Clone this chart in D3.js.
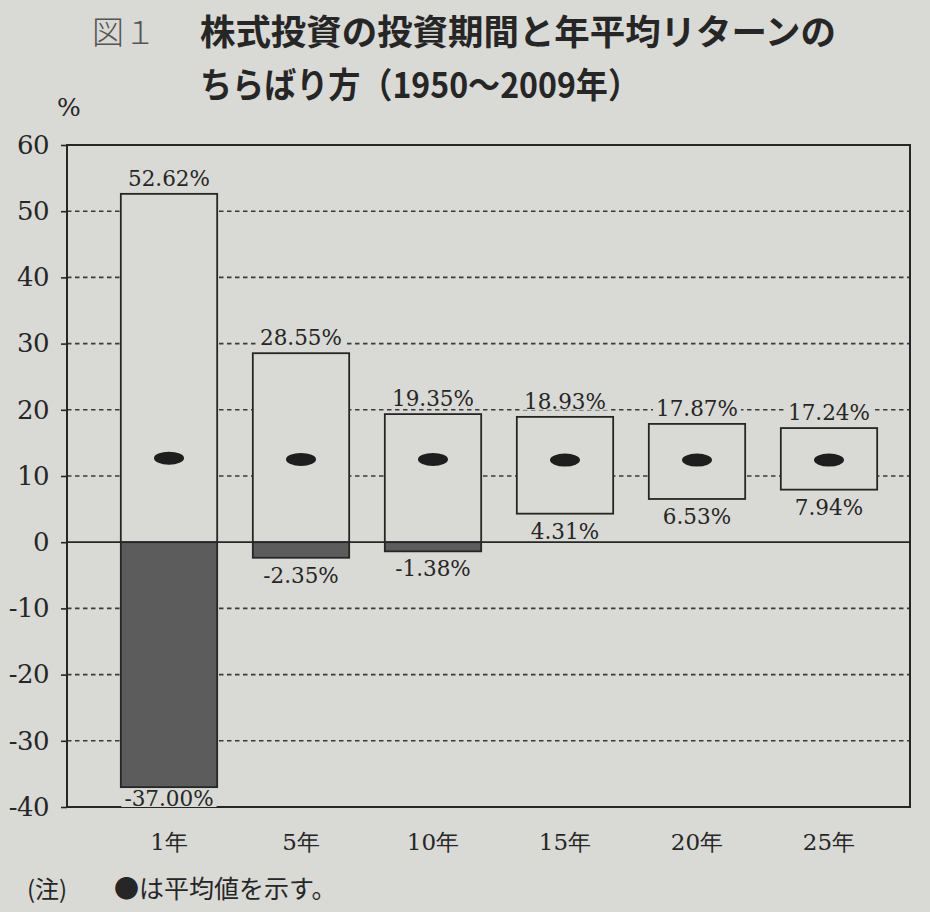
<!DOCTYPE html>
<html><head><meta charset="utf-8">
<script src="https://cdn.jsdelivr.net/npm/d3@7/dist/d3.min.js"></script>
<style>
html,body{margin:0;padding:0;background:#d9d9d5;}
svg{display:block;}
</style></head>
<body>
<script>
const categories = ["1年","5年","10年","15年","20年","25年"];
const maxValues = [52.62, 28.55, 19.35, 18.93, 17.87, 17.24];
const minValues = [-37.00, -2.35, -1.38, 4.31, 6.53, 7.94];
const meanValues = [12.7, 12.5, 12.5, 12.4, 12.4, 12.4];
const yTicks = [60, 50, 40, 30, 20, 10, 0, -10, -20, -30, -40];
const titleLine1 = "株式投資の投資期間と年平均リターンの";
const titleLine2 = "ちらばり方（1950〜2009年）";
const figLabel = "図１";
const notePrefix = "(注)";
const noteText = "●は平均値を示す。";

(function () {
const W = 930, H = 912;
const bg = "#d9d9d5";
const ink = "#262626";
const dark = "#5c5c5c";
const serif = "'DejaVu Serif','Liberation Serif',serif";
const jp = "'Noto Sans CJK JP','Noto Sans',sans-serif";
const labelSize = 21.5;

const svg = d3.select("body").append("svg").attr("width", W).attr("height", H);
svg.append("rect").attr("width", W).attr("height", H).attr("fill", bg);

const pLeft = 67, pRight = 910, pTop = 145, pBottom = 807;
const y = d3.scaleLinear().domain([-40, 60]).range([pBottom, pTop]);
const x = d3.scaleBand().domain(categories).range([103, 895]).paddingInner(0.27).paddingOuter(0.135);

// Title
svg.append("text").attr("x", 92).attr("y", 44).attr("font-family", jp).attr("font-size", 32)
  .attr("font-weight", 300).attr("fill", "#555").text(figLabel);
svg.append("text").attr("x", 200).attr("y", 45).attr("font-family", jp).attr("font-size", 35)
  .attr("font-weight", 700).attr("fill", ink).attr("textLength", 636).attr("lengthAdjust", "spacingAndGlyphs").text(titleLine1);
svg.append("text").attr("x", 200).attr("y", 98).attr("font-family", jp).attr("font-size", 35)
  .attr("font-weight", 700).attr("fill", ink).attr("textLength", 440).attr("lengthAdjust", "spacingAndGlyphs").text(titleLine2);

// % unit
svg.append("text").attr("x", 57).attr("y", 116).attr("font-family", serif).attr("font-size", 25)
  .attr("fill", ink).text("%");

// Gridlines (dashed)
svg.append("g").selectAll("line").data(yTicks.filter(t => t > -40 && t < 60 && t !== 0)).join("line")
  .attr("x1", pLeft).attr("x2", pRight)
  .attr("y1", d => y(d)).attr("y2", d => y(d))
  .attr("stroke", "#3a3a3a").attr("stroke-width", 1.6).attr("stroke-dasharray", "4.5,3.5");

// Frame
svg.append("rect").attr("x", pLeft).attr("y", pTop).attr("width", pRight - pLeft).attr("height", pBottom - pTop)
  .attr("fill", "none").attr("stroke", ink).attr("stroke-width", 2);

// Y axis with outward ticks (plain hyphen minus, as in the reference)
const yAxis = d3.axisLeft(y).tickValues(yTicks).tickSize(6).tickPadding(12).tickFormat(d => String(d));
const ga = svg.append("g").attr("transform", `translate(${pLeft},0)`).call(yAxis);
ga.select(".domain").remove();
ga.selectAll(".tick line").attr("stroke", ink).attr("stroke-width", 1.6);
ga.selectAll(".tick text").attr("font-family", serif).attr("font-size", 26).attr("fill", ink)
  .attr("letter-spacing", -0.5);

// Zero line
svg.append("line").attr("x1", pLeft).attr("x2", pRight).attr("y1", y(0)).attr("y2", y(0))
  .attr("stroke", ink).attr("stroke-width", 1.8);

const data = categories.map((c, i) => ({c, max: maxValues[i], min: minValues[i], mean: meanValues[i]}));

// Positive parts
svg.append("g").selectAll("rect").data(data).join("rect")
  .attr("x", d => x(d.c)).attr("width", x.bandwidth())
  .attr("y", d => y(d.max)).attr("height", d => y(Math.max(d.min, 0)) - y(d.max))
  .attr("fill", bg).attr("stroke", ink).attr("stroke-width", 1.8);

// Negative parts
svg.append("g").selectAll("rect").data(data.filter(d => d.min < 0)).join("rect")
  .attr("x", d => x(d.c)).attr("width", x.bandwidth())
  .attr("y", y(0)).attr("height", d => y(d.min) - y(0))
  .attr("fill", dark).attr("stroke", ink).attr("stroke-width", 1.8);

// Mean dots
svg.append("g").selectAll("ellipse").data(data).join("ellipse")
  .attr("cx", d => x(d.c) + x.bandwidth() / 2).attr("cy", d => y(d.mean))
  .attr("rx", 15).attr("ry", 6.5).attr("fill", "#1e1e1e");

const fmt = v => v.toFixed(2) + "%";
function label(g, cx, baseline, txt) {
  const t = g.append("text")
    .attr("x", cx).attr("y", baseline)
    .attr("text-anchor", "middle").attr("font-family", serif).attr("font-size", labelSize).attr("fill", ink)
    .text(txt);
  const b = t.node().getBBox();
  g.insert("rect", () => t.node())
    .attr("x", b.x - 3).attr("y", baseline - labelSize * 0.76).attr("width", b.width + 6)
    .attr("height", labelSize * 0.76 + 1).attr("fill", bg);
}
const gLab = svg.append("g");
data.forEach(d => {
  const cx = x(d.c) + x.bandwidth() / 2;
  label(gLab, cx, y(d.max) - 8, fmt(d.max));
  label(gLab, cx, Math.min(y(d.min) + 25, pBottom - 1), fmt(d.min));
});

// X axis labels
const xAxis = d3.axisBottom(x).tickSize(0).tickPadding(27);
const gx = svg.append("g").attr("transform", `translate(0,${pBottom})`).call(xAxis);
gx.select(".domain").remove();
gx.selectAll(".tick text").attr("font-family", serif).attr("font-size", 23).attr("fill", ink);

// Note
svg.append("text").attr("x", 27).attr("y", 898).attr("font-family", jp).attr("font-size", 24)
  .attr("fill", ink).text(notePrefix);
svg.append("text").attr("x", 114).attr("y", 898).attr("font-family", jp).attr("font-size", 25)
  .attr("fill", ink).text(noteText);
})();
</script>
</body></html>
